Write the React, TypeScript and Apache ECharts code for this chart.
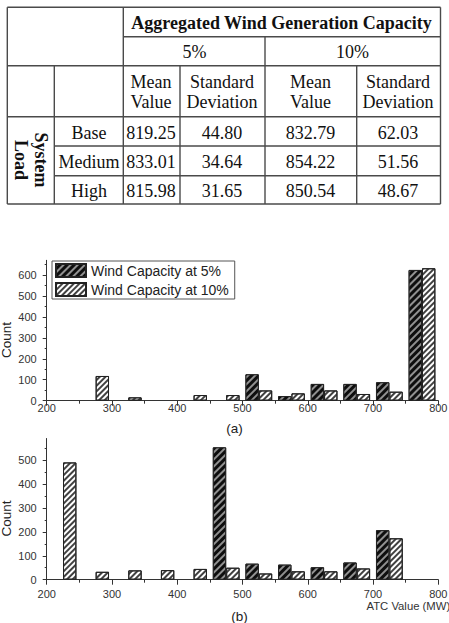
import React, { useEffect, useRef } from 'react';
import * as echarts from 'echarts';

// ---------- data ----------
const binStarts = [200, 250, 300, 350, 400, 450, 500, 550, 600, 650, 700, 750];
const countA5 = [0, 0, 0, 0, 0, 0, 126, 22, 80, 80, 88, 624];
const countA10 = [0, 118, 16, 0, 27, 27, 49, 35, 49, 32, 43, 632];
const countB5 = [0, 0, 0, 0, 0, 553, 67, 63, 52, 72, 207, 0];
const countB10 = [490, 33, 39, 40, 45, 50, 26, 35, 35, 47, 173, 0];
const seriesNames = ['Wind Capacity at 5%', 'Wind Capacity at 10%'];
const xMin = 200;
const xMax = 800;
const xStep = 100;
const yMaxA = 670;
const yMaxB = 590;
const yLabelsA = [0, 100, 200, 300, 400, 500, 600];
const yMinorA = [50, 150, 250, 350, 450, 550, 650];
const yLabelsB = [0, 100, 200, 300, 400, 500];
const yMinorB = [50, 150, 250, 350, 450, 550];

// table
const tableTitle = 'Aggregated Wind Generation Capacity';
const capacityLevels = ['5%', '10%'];
const statNames = ['Mean\nValue', 'Standard\nDeviation'];
const loadTitle = 'System\nLoad';
const loadLevels = ['Base', 'Medium', 'High'];
const mean5 = ['819.25', '833.01', '815.98'];
const std5 = ['44.80', '34.64', '31.65'];
const mean10 = ['832.79', '854.22', '850.54'];
const std10 = ['62.03', '51.56', '48.67'];

const SANS = '"Liberation Sans", Arial, sans-serif';
const SERIF = '"Liberation Serif", "Times New Roman", serif';

const z = (v: number) => (v === 0 ? '-' : v);

const darkStyle = {
  color: '#0e0e0e',
  borderColor: '#222',
  borderWidth: 1,
  decal: {
    symbol: 'rect',
    symbolSize: 1,
    dashArrayX: [1, 0],
    dashArrayY: [1.1, 2.1],
    rotation: -Math.PI / 4,
    color: 'rgba(150,150,150,0.95)',
  },
};
const lightStyle = {
  color: '#ffffff',
  borderColor: '#222',
  borderWidth: 1,
  decal: {
    symbol: 'rect',
    symbolSize: 1,
    dashArrayX: [1, 0],
    dashArrayY: [1.3, 1.9],
    rotation: -Math.PI / 4,
    color: 'rgba(55,55,55,0.95)',
  },
};

function buildTable(): any[] {
  const els: any[] = [];
  const stroke = '#4a4a4a';
  const lw = 1.4;
  const hl = (y: number, x1: number, x2: number) =>
    els.push({ type: 'line', shape: { x1, y1: y, x2, y2: y }, style: { stroke, lineWidth: lw } });
  const vl = (x: number, y1: number, y2: number) =>
    els.push({ type: 'line', shape: { x1: x, y1, x2: x, y2 }, style: { stroke, lineWidth: lw } });
  const L = 7.3, R = 440.5, T = 7.3, B = 204;
  hl(T, L, R);
  hl(36.7, 123.3, R);
  hl(65.7, L, R);
  hl(116.7, L, R);
  hl(146, 54.3, R);
  hl(175.7, 54.3, R);
  hl(B, L, R);
  vl(L, T, B);
  vl(54.3, 65.7, B);
  vl(123.3, T, B);
  vl(180, 65.7, B);
  vl(265, 36.7, B);
  vl(356.7, 65.7, B);
  vl(R, T, B);

  const txt = (text: string, x: number, y: number, bold = false, lineHeight = 20, rotation = 0) =>
    els.push({
      type: 'text',
      x,
      y,
      rotation,
      style: {
        text,
        font: `${bold ? 'bold ' : ''}18px ${SERIF}`,
        fill: '#111',
        align: 'center',
        verticalAlign: 'middle',
        lineHeight,
      },
    });
  txt(tableTitle, 281.5, 22.5, true);
  txt(capacityLevels[0], 194.5, 51.5);
  txt(capacityLevels[1], 352.5, 51.5);
  const colX = [151, 222, 310.5, 398];
  const headRow = [statNames[0], statNames[1], statNames[0], statNames[1]];
  headRow.forEach((t, i) => txt(t, colX[i], 92));
  const rowY = [132.5, 161.5, 191];
  loadLevels.forEach((t, i) => txt(t, 89, rowY[i]));
  const cols = [mean5, std5, mean10, std10];
  cols.forEach((col, ci) => col.forEach((t, ri) => txt(t, colX[ci], rowY[ri])));
  txt(loadTitle, 30.5, 160, true, 20, -Math.PI / 2);
  return els;
}

export default function App() {
  const ref = useRef<HTMLDivElement>(null);
  useEffect(() => {
    document.body.style.margin = '0';
    if (!ref.current) return;
    const chart = echarts.init(ref.current, undefined, { renderer: 'svg' });
    const binLabels = binStarts.map((b) => String(b));
    const valueXAxis = (gridIndex: number, margin: number) => ({
      type: 'value',
      gridIndex,
      position: 'bottom',
      min: xMin,
      max: xMax,
      interval: xStep,
      axisLine: { show: true, onZero: false, lineStyle: { color: '#333', width: 1 } },
      axisTick: { show: true, length: 5, lineStyle: { color: '#333' } },
      minorTick: { show: true, splitNumber: 2, length: 3, lineStyle: { color: '#333' } },
      axisLabel: { margin, fontSize: 11, fontFamily: SANS, color: '#333' },
      splitLine: { show: false },
    });
    const catXAxis = (gridIndex: number) => ({
      type: 'category',
      gridIndex,
      position: 'top',
      data: binLabels,
      show: false,
    });
    const mainY = (gridIndex: number, max: number, labels: number[]) => ({
      type: 'value',
      gridIndex,
      position: 'left',
      min: 0,
      max,
      axisLine: { show: true, onZero: false, lineStyle: { color: '#333', width: 1 } },
      axisTick: { show: true, length: 4, customValues: labels, lineStyle: { color: '#333' } },
      axisLabel: { margin: 10, fontSize: 11, fontFamily: SANS, color: '#333', customValues: labels },
      splitLine: { show: false },
    });
    const minorY = (gridIndex: number, max: number, ticks: number[]) => ({
      type: 'value',
      gridIndex,
      position: 'left',
      min: 0,
      max,
      axisLine: { show: false },
      axisTick: { show: true, length: 2, customValues: ticks, lineStyle: { color: '#333' } },
      axisLabel: { show: false },
      splitLine: { show: false },
    });
    const barCommon = { type: 'bar', barCategoryGap: '18%', barGap: '0%' };
    chart.setOption({
      animation: false,
      backgroundColor: '#fff',
      grid: [
        { left: 46.7, top: 260.3, width: 391.6, height: 140.4, outerBoundsMode: 'none' },
        { left: 46.7, top: 438.5, width: 391.6, height: 141.2, outerBoundsMode: 'none' },
      ],
      xAxis: [catXAxis(0), valueXAxis(0, 2), catXAxis(1), valueXAxis(1, 9)],
      yAxis: [mainY(0, yMaxA, yLabelsA), minorY(0, yMaxA, yMinorA), mainY(1, yMaxB, yLabelsB), minorY(1, yMaxB, yMinorB)],
      legend: {
        show: true,
        orient: 'vertical',
        left: 52,
        top: 261,
        data: seriesNames,
        icon: 'rect',
        itemWidth: 30,
        itemHeight: 13,
        itemGap: 4,
        padding: [2, 6, 2, 3],
        borderColor: '#555',
        borderWidth: 1,
        backgroundColor: '#fff',
        textStyle: { fontSize: 14, fontFamily: SANS, color: '#222' },
      },
      series: [
        { ...barCommon, name: seriesNames[0], xAxisIndex: 0, yAxisIndex: 0, data: countA5.map(z), itemStyle: darkStyle },
        { ...barCommon, name: seriesNames[1], xAxisIndex: 0, yAxisIndex: 0, data: countA10.map(z), itemStyle: lightStyle },
        { ...barCommon, name: seriesNames[0], xAxisIndex: 2, yAxisIndex: 2, data: countB5.map(z), itemStyle: darkStyle },
        { ...barCommon, name: seriesNames[1], xAxisIndex: 2, yAxisIndex: 2, data: countB10.map(z), itemStyle: lightStyle },
      ],
      graphic: [
        ...buildTable(),
        {
          type: 'text', x: 6, y: 340, rotation: Math.PI / 2,
          style: { text: 'Count', font: `13.5px ${SANS}`, fill: '#222', align: 'center', verticalAlign: 'middle' },
        },
        {
          type: 'text', x: 6, y: 518.5, rotation: Math.PI / 2,
          style: { text: 'Count', font: `13.5px ${SANS}`, fill: '#222', align: 'center', verticalAlign: 'middle' },
        },
        {
          type: 'text', x: 234.5, y: 428,
          style: { text: '(a)', font: `13.5px ${SANS}`, fill: '#222', align: 'center', verticalAlign: 'middle' },
        },
        {
          type: 'text', x: 239.5, y: 616,
          style: { text: '(b)', font: `13.5px ${SANS}`, fill: '#222', align: 'center', verticalAlign: 'middle' },
        },
        {
          type: 'text', x: 366.5, y: 605.5,
          style: { text: 'ATC Value (MW)', font: `11.3px ${SANS}`, fill: '#333', align: 'left', verticalAlign: 'middle' },
        },
      ],
    });
    return () => chart.dispose();
  }, []);
  return <div ref={ref} style={{ width: 449, height: 623 }} />;
}
